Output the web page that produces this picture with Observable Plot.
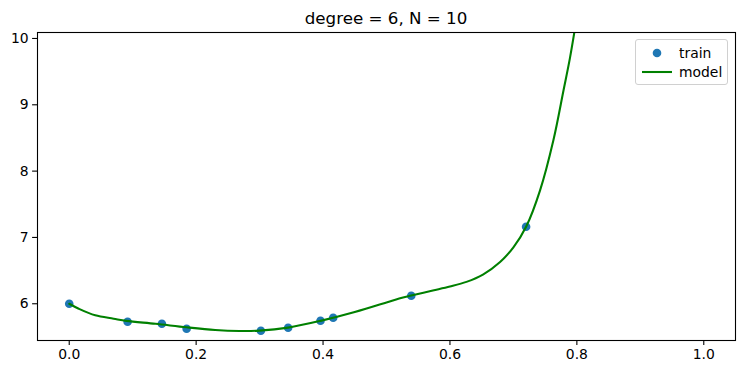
<!DOCTYPE html>
<html>
<head>
<meta charset="utf-8">
<script src="https://cdn.jsdelivr.net/npm/d3@7"></script>
<script src="https://cdn.jsdelivr.net/npm/@observablehq/plot@0.6"></script>
<style>
  html, body { margin: 0; padding: 0; background: white; }
  #wrap { position: relative; width: 744px; height: 374px; font-family: "DejaVu Sans", sans-serif; }
  #title { height: 28px; box-sizing: border-box; padding-top: 8px; line-height: 20px; font-size: 16.7px; text-align: center; padding-left: 37px; padding-right: 9px; color: black; }
  #legend { position: absolute; left: 635px; top: 39px; width: 93px; height: 46px; box-sizing: border-box; border: 1px solid #d0d0d0; border-radius: 3px; background: rgba(255,255,255,0.8); font-size: 13.9px; }
  .row { position: absolute; left: 0; height: 20px; width: 100%; }
  .row span { position: absolute; left: 43px; top: 0; line-height: 20px; }
  .row svg { position: absolute; left: 3px; top: 0; }
</style>
</head>
<body>
<div id="wrap">
  <div id="title">degree = 6, N = 10</div>
  <div id="chart"></div>
  <div id="legend">
    <div class="row" style="top:3px"><svg width="36" height="20"><circle cx="18" cy="10" r="4.3" fill="#1f77b4"></circle></svg><span>train</span></div>
    <div class="row" style="top:22px"><svg width="36" height="20"><line x1="3" x2="33" y1="10" y2="10" stroke="#008000" stroke-width="2.08"></line></svg><span>model</span></div>
  </div>
</div>
<script>
const trainX = [0.0, 0.092, 0.146, 0.185, 0.302, 0.345, 0.396, 0.416, 0.539, 0.720];
const trainY = [6.00, 5.728, 5.698, 5.623, 5.592, 5.639, 5.743, 5.789, 6.121, 7.162];

const modelX = [0.0, 0.015, 0.041, 0.07, 0.09, 0.136, 0.185, 0.23, 0.268, 0.30, 0.345, 0.396, 0.45, 0.50, 0.52, 0.539, 0.573, 0.60, 0.626, 0.652, 0.679, 0.70, 0.72, 0.742, 0.763, 0.779, 0.789, 0.797, 0.81];
const modelY = [6.00, 5.925, 5.825, 5.775, 5.742, 5.698, 5.645, 5.605, 5.59, 5.595, 5.64, 5.742, 5.875, 6.02, 6.08, 6.125, 6.20, 6.26, 6.33, 6.44, 6.63, 6.85, 7.16, 7.71, 8.465, 9.22, 9.70, 10.15, 10.95];

const xTicks = [0.0, 0.2, 0.4, 0.6, 0.8, 1.0];
const yTicks = [6, 7, 8, 9, 10];

const train = trainX.map((x, i) => ({x, y: trainY[i]}));
const model = modelX.map((x, i) => ({x, y: modelY[i]}));

const chart = Plot.plot({
  width: 744,
  height: 346,
  marginTop: 4,
  marginBottom: 34,
  marginLeft: 37,
  marginRight: 9,
  style: { fontFamily: "DejaVu Sans", fontSize: "13.9px", color: "black", background: "white", overflow: "visible" },
  x: { domain: [-0.05, 1.05] },
  y: { domain: [5.446, 10.09] },
  marks: [
    Plot.dot(train, { x: "x", y: "y", r: 4.3, fill: "#1f77b4" }),
    Plot.line(model, { x: "x", y: "y", stroke: "#008000", strokeWidth: 2.08, curve: "catmull-rom", clip: true }),
    Plot.frame({ stroke: "black", strokeWidth: 1.1 }),
    Plot.axisX({ ticks: xTicks, tickFormat: d3.format(".1f"), tickSize: 4.9, tickPadding: 4, label: null, strokeWidth: 1.1, fontSize: 13.9 }),
    Plot.axisY({ ticks: yTicks, tickFormat: d3.format("d"), tickSize: 4.9, tickPadding: 4, label: null, strokeWidth: 1.1, fontSize: 13.9 })
  ]
});
document.getElementById("chart").appendChild(chart);
</script>
</body>
</html>
